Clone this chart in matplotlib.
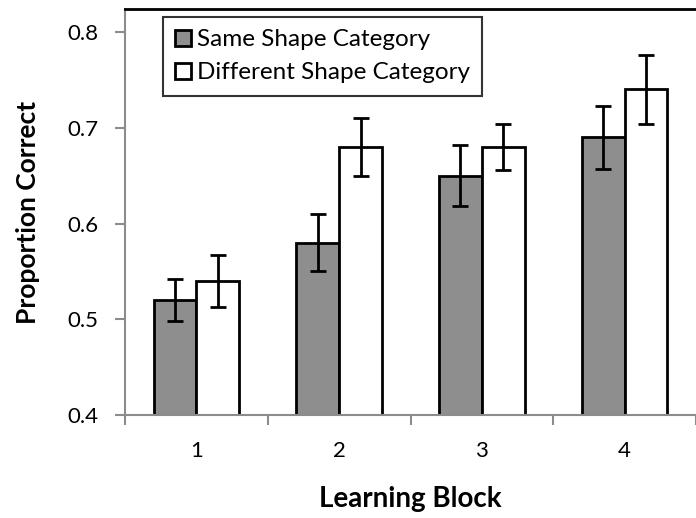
import numpy as np
import matplotlib.pyplot as plt

plt.rcParams['font.family'] = ['Lato', 'DejaVu Sans']

blocks = ['1', '2', '3', '4']
same_mean = [0.52, 0.58, 0.65, 0.69]
same_err = [0.022, 0.030, 0.032, 0.033]
diff_mean = [0.54, 0.68, 0.68, 0.74]
diff_err = [0.027, 0.030, 0.024, 0.036]

fig = plt.figure(figsize=(6.96, 5.18), dpi=100)
ax = fig.add_axes([0.1796, 0.1988, 0.8204, 0.7838])

x = np.arange(len(blocks))
w = 0.3
ax.bar(x - w / 2, same_mean, w, color='#8e8e8e', edgecolor='black', linewidth=2,
       label='Same Shape Category', zorder=2)
ax.bar(x + w / 2, diff_mean, w, color='white', edgecolor='black', linewidth=2,
       label='Different Shape Category', zorder=2)
ax.errorbar(x - w / 2, same_mean, yerr=same_err, fmt='none', ecolor='black',
            elinewidth=2, capsize=5.5, capthick=2, zorder=3)
ax.errorbar(x + w / 2, diff_mean, yerr=diff_err, fmt='none', ecolor='black',
            elinewidth=2, capsize=5.5, capthick=2, zorder=3)

ax.set_xlim(-0.5, 3.5)
ax.set_ylim(0.4, 0.824)
ax.set_yticks([0.4, 0.5, 0.6, 0.7, 0.8])
ax.set_yticklabels(['0.4', '0.5', '0.6', '0.7', '0.8'], fontsize=16)

# ticks sit between categories, labels in the middle
ax.set_xticks(np.arange(-0.5, 4.0, 1.0))
ax.set_xticklabels([])
ax.set_xticks(x, minor=True)
ax.set_xticklabels(blocks, minor=True, fontsize=16)
ax.tick_params(axis='x', which='minor', length=0, pad=19)
ax.tick_params(axis='x', which='major', length=7, width=1.5, color='#8c8c8c', direction='out')
ax.tick_params(axis='y', length=7, width=1.5, color='#8c8c8c', direction='out', pad=12)

for side in ['left', 'bottom']:
    ax.spines[side].set_color('#8c8c8c')
    ax.spines[side].set_linewidth(1.5)
ax.spines['top'].set_color('black')
ax.spines['top'].set_linewidth(2)
ax.spines['right'].set_visible(False)

ax.set_xlabel('Learning Block', fontsize=20, fontweight='bold', labelpad=18)
ax.set_ylabel('Proportion Correct', fontsize=19, fontweight='bold', labelpad=20)

leg = ax.legend(loc='upper left', bbox_to_anchor=(0.066, 0.980), fontsize=17.5,
                frameon=True, fancybox=False, edgecolor='black',
                handlelength=0.65, handleheight=0.65, handletextpad=0.25,
                borderpad=0.5, labelspacing=0.5, borderaxespad=0)
leg.get_frame().set_linewidth(1.5)

fig.savefig('out.png', dpi=100)
